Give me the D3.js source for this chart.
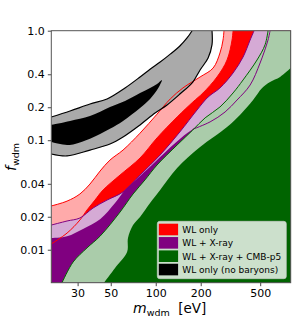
<!DOCTYPE html>
<html>
<head>
<meta charset="utf-8">
<script src="https://cdn.jsdelivr.net/npm/d3@7"></script>
<style>
  body { margin: 0; background: #fff; }
  svg text { font-family: "DejaVu Sans", sans-serif; }
</style>
</head>
<body>
<div id="chart"></div>
<script>
// contour boundaries, [m_wdm (eV), f_wdm]
const redOuter = [[20,0.0251],[25.5,0.0278],[31.1,0.0323],[36.3,0.0398],[42.4,0.0523],[49.4,0.0659],[60.4,0.0813],[78.5,0.116],[102,0.173],[125,0.238],[152,0.300],[198,0.378],[242,0.456],[269,0.626],[282,0.822],[286,1.0]];
const redInner = [[20,0.0113],[25.5,0.0142],[31.1,0.0187],[34.7,0.0231],[39.2,0.0284],[44.4,0.0351],[57.7,0.0481],[78.5,0.0688],[102,0.105],[139,0.163],[177,0.223],[207,0.270],[257,0.378],[300,0.540],[324,0.822],[329,1.0]];
const purpleOuter = [[20,0.0168],[25.5,0.0183],[31.1,0.0195],[38.0,0.0240],[47.2,0.0284],[60.4,0.0337],[78.5,0.0481],[107,0.0733],[145,0.119],[189,0.189],[224,0.248],[269,0.300],[329,0.411],[384,0.575],[428,0.822],[455,1.0]];
const purpleEdge = [[177,0.126],[231,0.147],[291,0.181],[350,0.233],[428,0.319],[499,0.507],[564,0.822],[582,1.0]];
const purpleInner = [[20,0.0128],[25.5,0.0133],[32.6,0.0155],[42.4,0.0190],[53.4,0.0267],[62.3,0.0351],[78.5,0.0471],[98.9,0.0632],[135,0.0942]].concat(purpleEdge);
const greenOuter = [[23.6,0.005],[28.0,0.00773],[34.7,0.0104],[42.4,0.0133],[57.7,0.0221],[70.5,0.0323],[84.7,0.0434],[102,0.0594],[139,0.0904],[177,0.124],[214,0.160],[269,0.201],[329,0.270],[384,0.355],[476,0.540],[539,0.745],[564,1.0]];
const greenInner = [[45.1,0.005],[53.4,0.00681],[64.3,0.00953],[65.2,0.0128],[70.5,0.0168],[78.5,0.0199],[91.6,0.0267],[107,0.0351],[139,0.0557],[198,0.0867],[300,0.132],[366,0.170],[448,0.233],[515,0.300],[582,0.340],[679,0.378],[800,0.456]];
const grayUpper = [[20,0.163],[26.7,0.185],[36.3,0.214],[47.2,0.238],[62.3,0.300],[78.5,0.378],[91.6,0.445],[107,0.517],[125,0.611],[145,0.725],[162,0.858],[175,1.0]];
const grayLower = [[20,0.0748],[25.5,0.0718],[36.3,0.0813],[49.4,0.0923],[60.4,0.107],[78.5,0.138],[98.9,0.177],[119,0.210],[145,0.264],[177,0.340],[198,0.438],[224,0.563],[238,0.745],[238,1.0]];
const blackUpper = [[20,0.138],[26.7,0.150],[36.3,0.166],[49.4,0.201],[62.3,0.228],[78.5,0.270],[91.6,0.300],[102,0.326],[110,0.355]];
const blackLower = [[104,0.300],[91.6,0.238],[78.5,0.197],[60.4,0.150],[49.4,0.127],[36.3,0.103],[28.8,0.0923],[25.5,0.0904],[20,0.0963]];

const xTicks = [30, 50, 100, 200, 500];
const xTickLabels = ["30", "50", "100", "200", "500"];
const yTicks = [1.0, 0.4, 0.2, 0.1, 0.04, 0.02, 0.01];
const yTickLabels = ["1.0", "0.4", "0.2", "0.1", "0.04", "0.02", "0.01"];

const legendLabels = ["WL only", "WL + X-ray", "WL + X-ray + CMB-p5", "WL only (no baryons)"];
const legendColors = ["#ff0000", "#800080", "#006400", "#000000"];

const W = 298, H = 317;
const L = 51.3, R = 290.7, T = 30.7, B = 282.7;

const svg = d3.select("#chart").append("svg")
  .attr("width", W).attr("height", H);

const x = d3.scaleLog().domain([20, 800]).range([L, R]);
const y = d3.scaleLog().domain([0.005, 1]).range([B, T]);

svg.append("defs").append("clipPath").attr("id", "plot-clip")
  .append("rect").attr("x", L).attr("y", T).attr("width", R - L).attr("height", B - T);

const line = d3.line().x(d => x(d[0])).y(d => y(d[1])).curve(d3.curveCatmullRom.alpha(0.5));
const pt = p => x(p[0]) + "," + y(p[1]);

// region from a boundary down to the lower right corner
function lowerRight(pts) {
  let d = line(pts);
  const last = pts[pts.length - 1];
  [[last[0], 2], [3000, 2], [3000, 0.001], [pts[0][0], 0.001]].forEach(p => d += "L" + pt(p));
  return d + "Z";
}

const g = svg.append("g").attr("clip-path", "url(#plot-clip)");

g.append("path").attr("d", lowerRight(redOuter)).attr("fill", "#ffaaaa");
g.append("path").attr("d", lowerRight(redInner)).attr("fill", "#ff0000");
g.append("path").attr("d", lowerRight(purpleOuter)).attr("fill", "#d5aad5");
g.append("path").attr("d", lowerRight(purpleInner)).attr("fill", "#800080");
g.append("path").attr("d", lowerRight(greenOuter)).attr("fill", "#aaccaa");
g.append("path").attr("d", lowerRight(greenInner)).attr("fill", "#006400");

// no-baryon contours
let grayD = line(grayUpper) + "L" + pt([175, 2]) + "L" + pt([238, 2]) +
  line(grayLower.slice().reverse()).replace(/^M/, "L") + "Z";
g.append("path").attr("d", grayD).attr("fill", "#aaaaaa");
g.append("path").attr("d", line(blackUpper.concat(blackLower)) + "Z").attr("fill", "#000");

// contour lines
g.append("path").attr("d", line(redOuter)).attr("fill", "none").attr("stroke", "#ff0000").attr("stroke-width", 1);
g.append("path").attr("d", line(redInner)).attr("fill", "none").attr("stroke", "#ff0000").attr("stroke-width", 1);
g.append("path").attr("d", line(purpleOuter)).attr("fill", "none").attr("stroke", "#800080").attr("stroke-width", 1);
g.append("path").attr("d", line(purpleEdge)).attr("fill", "none").attr("stroke", "#800080").attr("stroke-width", 1);
g.append("path").attr("d", line(greenOuter)).attr("fill", "none").attr("stroke", "#006400").attr("stroke-width", 1);
g.append("path").attr("d", line(grayUpper)).attr("fill", "none").attr("stroke", "#000").attr("stroke-width", 1.2);
g.append("path").attr("d", line(grayLower)).attr("fill", "none").attr("stroke", "#000").attr("stroke-width", 1.2);

// axes
const xAxis = d3.axisBottom(x).tickValues(xTicks)
  .tickFormat((d, i) => xTickLabels[i]).tickSize(3.5).tickSizeOuter(0).tickPadding(3);
const yAxis = d3.axisLeft(y).tickValues(yTicks)
  .tickFormat((d, i) => yTickLabels[i]).tickSize(3.5).tickSizeOuter(0).tickPadding(3);

const gx = svg.append("g").attr("transform", `translate(0,${B})`).call(xAxis);
const gy = svg.append("g").attr("transform", `translate(${L},0)`).call(yAxis);
[gx, gy].forEach(a => {
  a.select(".domain").remove();
  a.selectAll("line").attr("stroke", "#333").attr("stroke-width", 0.9);
  a.selectAll("text").attr("font-size", 11).attr("fill", "#000").attr("font-family", "DejaVu Sans");
});

svg.append("rect").attr("x", L).attr("y", T).attr("width", R - L).attr("height", B - T)
  .attr("fill", "none").attr("stroke", "#555").attr("stroke-width", 1);

// axis labels
const xl = svg.append("text").attr("x", 133).attr("y", 313).attr("fill", "#000");
xl.append("tspan").attr("font-size", 14).attr("font-style", "italic").text("m");
xl.append("tspan").attr("font-size", 9.5).attr("dy", 3).text("wdm");
xl.append("tspan").attr("font-size", 13.5).attr("dy", -3).text("\u00a0 [eV]");

const yl = svg.append("text").attr("transform", "translate(16,171) rotate(-90)").attr("fill", "#000");
yl.append("tspan").attr("font-size", 14).attr("font-style", "italic").text("f");
yl.append("tspan").attr("font-size", 9.5).attr("dy", 3).text("wdm");

// legend
const lg = svg.append("g");
lg.append("rect").attr("x", 157.3).attr("y", 221.3).attr("width", 129).attr("height", 57.4)
  .attr("rx", 2.5).attr("fill", "#fff").attr("fill-opacity", 0.8)
  .attr("stroke", "#ccc").attr("stroke-opacity", 0.8).attr("stroke-width", 0.8);
legendLabels.forEach((lab, i) => {
  const cy = 229.5 + i * 13.35;
  lg.append("rect").attr("x", 158.8).attr("y", cy - 5.8).attr("width", 19.3).attr("height", 11.6)
    .attr("fill", legendColors[i]);
  lg.append("text").attr("x", 182.3).attr("y", cy + 3.3).attr("font-size", 9).attr("fill", "#000").text(lab);
});
</script>
</body>
</html>
